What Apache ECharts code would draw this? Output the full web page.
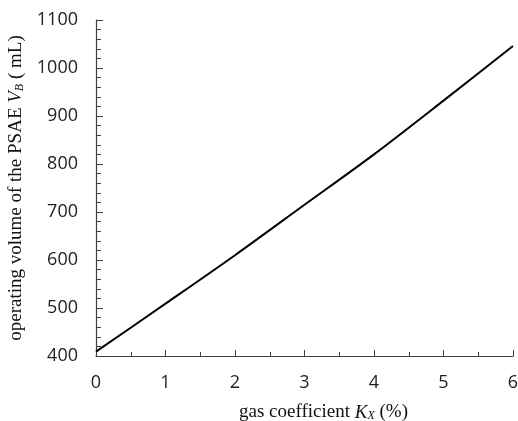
<!DOCTYPE html>
<html>
<head>
<meta charset="utf-8">
<script src="https://cdn.jsdelivr.net/npm/echarts@6/dist/echarts.min.js"></script>
<style>
  html, body { margin: 0; padding: 0; background: #fff; }
  #chart { width: 518px; height: 421px; }
</style>
</head>
<body>
<div id="chart"></div>
<script>
// gas coefficient K_X (%) and operating volume V_B (mL)
const gasCoef = [0, 1, 2, 3, 4, 5, 6];
const volume = [409, 509, 610, 715, 820, 932, 1046];

const points = gasCoef.map((x, i) => [x, volume[i]]);

const axisColor = '#404040';
const tickFont = { fontFamily: 'Open Sans', fontSize: 18, color: '#222' };
const serif = 'Liberation Serif';
const titleRich = {
  t: { fontFamily: serif, fontSize: 19, color: '#111', lineHeight: 22, verticalAlign: 'bottom' },
  i: { fontFamily: serif, fontStyle: 'italic', fontSize: 19, color: '#111', lineHeight: 22, verticalAlign: 'bottom' },
  s: { fontFamily: serif, fontStyle: 'italic', fontSize: 12, color: '#111', lineHeight: 15, verticalAlign: 'bottom' }
};

const chart = echarts.init(document.getElementById('chart'));
chart.setOption({
  animation: false,
  grid: { left: 96, right: 5, top: 20, bottom: 65, containLabel: false, outerBoundsMode: 'none' },
  xAxis: {
    type: 'value',
    min: 0, max: 6, interval: 1,
    name: '{t|gas coefficient }{i|K}{s|X}{t| (%)}',
    nameLocation: 'middle',
    nameGap: 44,
    nameTextStyle: { padding: [0, 0, 0, 38], rich: titleRich },
    axisLine: { lineStyle: { color: axisColor, width: 1.2 } },
    axisTick: { inside: true, length: 6, lineStyle: { color: axisColor } },
    minorTick: { show: true, splitNumber: 2, length: 4, lineStyle: { color: axisColor } },
    axisLabel: Object.assign({ margin: 18 }, tickFont),
    splitLine: { show: false }
  },
  yAxis: {
    type: 'value',
    min: 400, max: 1100, interval: 100,
    name: '{t|operating volume of the PSAE }{i|V}{s|B}{t| ( mL)}',
    nameLocation: 'middle',
    nameRotate: 90,
    nameGap: 70,
    nameTextStyle: { rich: titleRich },
    axisLine: { show: true, lineStyle: { color: axisColor, width: 1.2 } },
    axisTick: { show: true, inside: true, length: 7, lineStyle: { color: axisColor } },
    minorTick: { show: true, splitNumber: 5, length: 5, lineStyle: { color: axisColor } },
    axisLabel: Object.assign({ margin: 18, formatter: v => String(v) }, tickFont),
    splitLine: { show: false }
  },
  series: [{
    type: 'line',
    data: points,
    showSymbol: false,
    smooth: 0.3,
    lineStyle: { color: '#000', width: 2 }
  }]
});
</script>
</body>
</html>
